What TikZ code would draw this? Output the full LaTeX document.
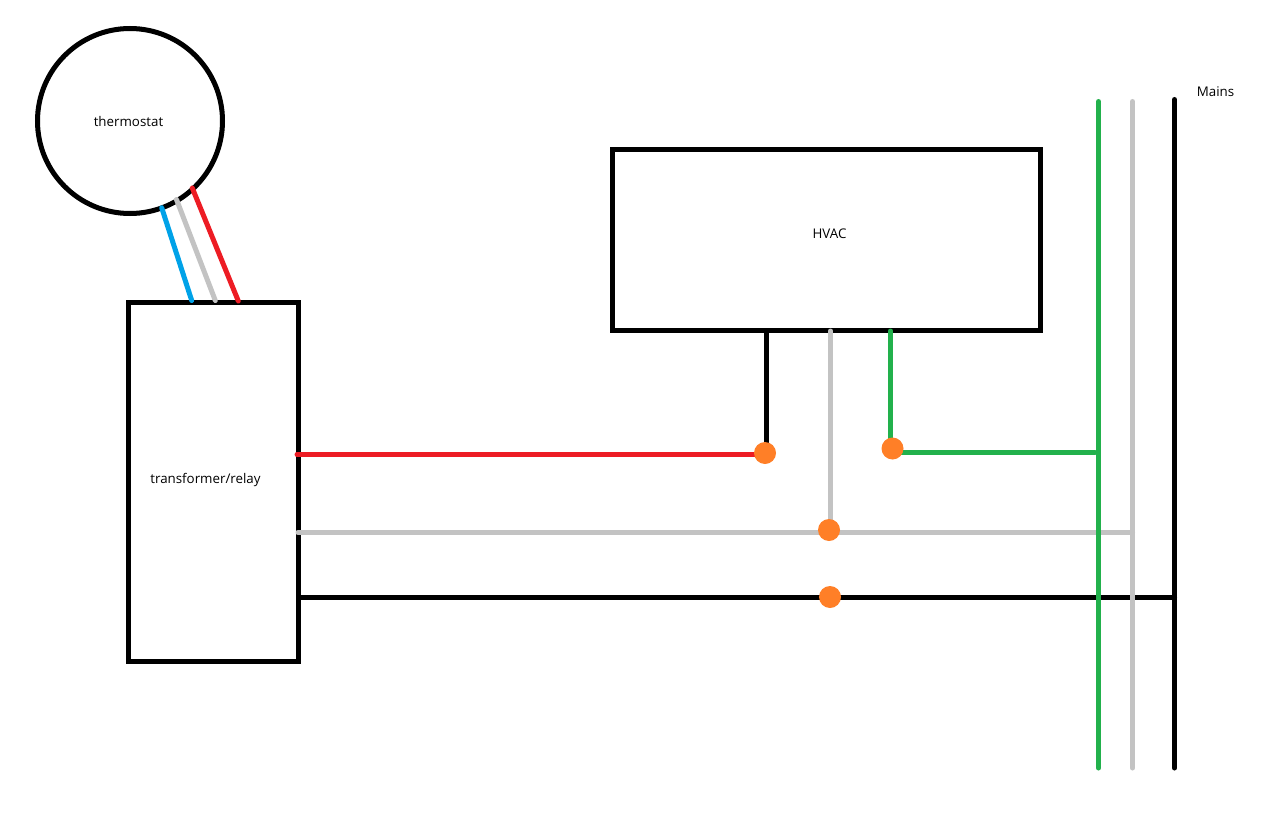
\documentclass[tikz,border=0pt]{standalone}
\usepackage{fontspec}
\setmainfont{Open Sans}
\usepackage{tikz}
\definecolor{wirered}{RGB}{237,28,36}
\definecolor{wireblue}{RGB}{0,162,232}
\definecolor{wiregray}{RGB}{195,195,195}
\definecolor{wiregreen}{RGB}{34,177,76}
\definecolor{joint}{RGB}{255,127,39}
\pgfdeclarelayer{boxes}
\pgfdeclarelayer{wires}
\pgfsetlayers{boxes,wires,main}
\tikzstyle{box} = [rectangle,draw=black,line width=3.75pt,inner sep=0pt]
\tikzstyle{label} = [font=\fontsize{10pt}{12pt}\selectfont,text=black,inner sep=0pt]
\tikzstyle{dot} = [circle,fill=joint,minimum size=16.5pt,inner sep=0pt]
\tikzstyle{wire} = [line width=3.75pt,line cap=round]

\begin{document}
\begin{tikzpicture}[x=0.75pt,y=-0.75pt]
\useasboundingbox (0,0) rectangle (1267,824);
\begin{pgfonlayer}{boxes}
\node(thermostat)[box,circle,minimum size=138.75pt] at (130,121){};
\node(relay)[box,minimum width=127.25pt,minimum height=269.5pt] at (213.3,482){};
\node(hvac)[box,minimum width=321pt,minimum height=135.75pt] at (826.5,240){};
\end{pgfonlayer}
\node(thermolabel)[label] at (128.5,121.5){thermostat};
\node(relaylabel)[label] at (205.5,480){transformer/relay};
\node(hvaclabel)[label] at (829.5,233.5){HVAC};
\node(mainslabel)[label] at (1215.5,91.5){Mains};

\node(hot)[dot] at (765,453){};
\node(fan)[dot] at (892.5,448.5){};
\node(neutral)[dot] at (829,530){};
\node(line)[dot] at (830,597){};

\coordinate(mainstop) at (1174.5,99.5);
\coordinate(mainsbot) at (1174.5,768);
\coordinate(graytop) at (1132.5,101.5);
\coordinate(graybot) at (1132.5,768);
\coordinate(greentop) at (1098.5,101.5);
\coordinate(greenbot) at (1098.5,768);
\coordinate(blueup) at (161.7,207.7);
\coordinate(blueend) at (191.7,300.5);
\coordinate(grayup) at (176.5,199.5);
\coordinate(grayend) at (215.3,300.5);
\coordinate(redup) at (192.3,188);
\coordinate(redend) at (238.3,301);
\coordinate(relayred) at (297,454.5);
\coordinate(relaygray) at (298,532.5);
\coordinate(relayblack) at (299,597.5);
\coordinate(hvacblack) at (766.5,331);
\coordinate(hvacgray) at (830.5,331);
\coordinate(hvacgreen) at (890.5,331);
\coordinate(greenfeed) at (1095,452.5);

\begin{pgfonlayer}{wires}
\draw[wire,wireblue](blueup)--(blueend);
\draw[wire,wiregray](grayup)--(grayend);
\draw[wire,wirered](redup)--(redend);
\draw[wire,black](mainstop)--(mainsbot);
\draw[wire,black](relayblack)--(relayblack -| mainstop);
\draw[wire,wiregray](relaygray)--(relaygray -| graytop);
\draw[wire,wiregray](graytop)--(graybot);
\draw[wire,wiregreen](greentop)--(greenbot);
\draw[wire,wirered](relayred)--(relayred -| hot);
\draw[wire,black](hvacblack)--(hvacblack |- hot);
\draw[wire,wiregray](hvacgray)--(hvacgray |- neutral);
\draw[wire,wiregreen](hvacgreen)--(hvacgreen |- fan);
\draw[wire,wiregreen](greenfeed -| fan)--(greenfeed);
\end{pgfonlayer}
\end{tikzpicture}
\end{document}
